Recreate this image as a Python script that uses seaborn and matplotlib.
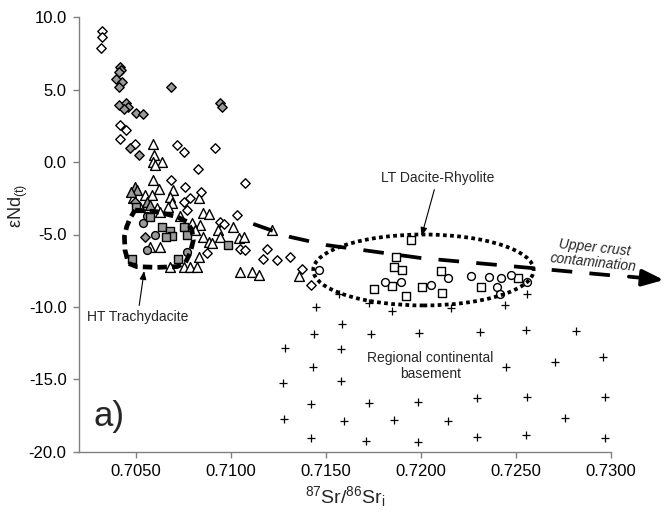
import matplotlib
matplotlib.use("Agg")
import matplotlib.pyplot as plt
import pandas as pd
import seaborn as sns
from matplotlib.patches import Ellipse
from matplotlib.ticker import FixedLocator, FuncFormatter

# ---------------------------------------------------------------------------
# Sr-Nd isotope data (87Sr/86Sr initial, epsilon Nd at t)
# ---------------------------------------------------------------------------
open_diamond_sr = [0.70320, 0.70320, 0.70316, 0.70416, 0.70446, 0.70416, 0.70495, 0.70715,
                   0.70753, 0.70917, 0.70824, 0.71075, 0.70683, 0.70759, 0.70841, 0.70750,
                   0.70785, 0.70768, 0.71031, 0.70940, 0.70961, 0.71045, 0.71075, 0.70873,
                   0.71189, 0.71171, 0.71242, 0.71312, 0.71374, 0.71421]
open_diamond_nd = [9.07, 8.66, 7.86, 2.56, 2.22, 1.57, 1.25, 1.18,
                   0.72, 0.95, -0.50, -1.46, -1.24, -1.70, -2.04, -2.73,
                   -2.50, -3.31, -3.65, -4.12, -4.27, -6.02, -6.07, -6.30,
                   -6.02, -6.71, -6.76, -6.57, -7.40, -8.49]

gray_diamond_sr = [0.70416, 0.70420, 0.70412, 0.70393, 0.70425, 0.70412, 0.70685, 0.70412,
                   0.70446, 0.70460, 0.70439, 0.70500, 0.70536, 0.70940, 0.70952, 0.70469,
                   0.70518, 0.70548, 0.70495]
gray_diamond_nd = [6.59, 6.36, 6.24, 5.72, 5.55, 5.17, 5.17, 3.94,
                   4.10, 3.78, 3.65, 3.41, 3.32, 4.10, 3.83, 0.95,
                   0.49, -5.19, -2.73]

open_triangle_sr = [0.70592, 0.70595, 0.70592, 0.70636, 0.70601, 0.70588, 0.70622, 0.70697,
                    0.70829, 0.70486, 0.70548, 0.70583, 0.70680, 0.70689, 0.70671, 0.70522,
                    0.70610, 0.70627, 0.70855, 0.70882, 0.70732, 0.70838, 0.70794, 0.70811,
                    0.70934, 0.71013, 0.71216, 0.70855, 0.70882, 0.70899, 0.70943, 0.71040,
                    0.71066, 0.70574, 0.70627, 0.70829, 0.70680, 0.70750, 0.70785, 0.70820,
                    0.71049, 0.71110, 0.71145, 0.71360]
open_triangle_nd = [1.25, 0.49, 0.03, 0.03, -0.20, -1.24, -1.88, -1.93,
                    -2.50, -2.50, -2.27, -2.27, -2.39, -2.85, -3.08, -3.08,
                    -3.19, -3.43, -3.54, -3.58, -3.72, -4.34, -4.23, -4.69,
                    -4.69, -4.50, -4.69, -5.19, -5.50, -5.61, -5.15, -5.26,
                    -5.15, -5.84, -5.84, -6.53, -7.27, -7.22, -7.27, -7.27,
                    -7.57, -7.57, -7.80, -7.87]

gray_triangle_sr = [0.70495, 0.70504, 0.70557, 0.70574, 0.70474]
gray_triangle_nd = [-1.70, -1.93, -2.73, -2.96, -2.06]

gray_square_sr = [0.70500, 0.70574, 0.70636, 0.70680, 0.70689, 0.70659, 0.70753, 0.70768,
                  0.70982, 0.70478, 0.70723]
gray_square_nd = [-3.08, -3.77, -4.50, -4.74, -5.10, -5.15, -4.46, -5.03,
                  -5.73, -6.71, -6.71]

gray_circle_sr = [0.70557, 0.70539, 0.70601, 0.70557, 0.70768]
gray_circle_nd = [-3.72, -4.23, -5.03, -6.07, -6.19]

open_square_sr = [0.71945, 0.71866, 0.71860, 0.71901, 0.71755, 0.71848, 0.71922, 0.72103,
                  0.72006, 0.72112, 0.72314, 0.72510]
open_square_nd = [-5.38, -6.53, -7.27, -7.45, -8.78, -8.56, -9.25, -7.50,
                  -8.60, -9.02, -8.60, -8.02]

open_circle_sr = [0.71461, 0.71813, 0.71896, 0.72141, 0.72050, 0.72261, 0.72357, 0.72419,
                  0.72472, 0.72556, 0.72402, 0.72415]
open_circle_nd = [-7.45, -8.26, -8.26, -8.02, -8.49, -7.87, -7.91, -8.02,
                  -7.80, -8.26, -8.65, -9.11]

basement_sr = [0.71567, 0.71449, 0.71725, 0.71848, 0.72156, 0.72560, 0.72440,
               0.71585, 0.71439, 0.71738, 0.71988, 0.72310, 0.72551, 0.72814,
               0.71286, 0.71581,
               0.71430, 0.72449, 0.72704, 0.72960,
               0.71274, 0.71579,
               0.71423, 0.71725, 0.71983, 0.72296, 0.72556, 0.72969,
               0.71281, 0.71597, 0.71860, 0.72141, 0.72756,
               0.71421, 0.71708, 0.71983, 0.72293, 0.72551, 0.72969]
basement_nd = [-9.14, -10.03, -9.71, -10.26, -10.10, -9.11, -9.87,
               -11.18, -11.87, -11.87, -11.82, -11.75, -11.60, -11.67,
               -12.86, -12.93,
               -14.13, -14.13, -13.78, -13.48,
               -15.28, -15.10,
               -16.71, -16.62, -16.55, -16.31, -16.20, -16.24,
               -17.76, -17.86, -17.81, -17.86, -17.65,
               -19.07, -19.24, -19.31, -19.01, -18.85, -19.03]

x_ticks = [0.7050, 0.7100, 0.7150, 0.7200, 0.7250, 0.7300]
y_ticks = [10.0, 5.0, 0.0, -5.0, -10.0, -15.0, -20.0]

# Field outlines and trend (annotation geometry)
ht_field_sr = [0.70495, 0.70610, 0.70715, 0.70768, 0.70794, 0.70802, 0.70785, 0.70759,
               0.70715, 0.70610, 0.70504, 0.70460, 0.70442, 0.70439, 0.70451, 0.70469]
ht_field_nd = [-3.31, -3.43, -3.77, -4.12, -4.69, -5.38, -6.28, -6.97,
               -7.22, -7.27, -7.22, -6.99, -6.07, -5.15, -4.46, -3.88]
trend_sr = [0.71117, 0.71312, 0.71502, 0.71997, 0.72577, 0.73009]
trend_nd = [-4.27, -5.17, -5.73, -6.62, -7.31, -7.83]

# ---------------------------------------------------------------------------
sns.set_style("white")
plt.rcParams["font.family"] = ["Liberation Sans", "DejaVu Sans"]
plt.rcParams["mathtext.fontset"] = "custom"
plt.rcParams["mathtext.rm"] = "Liberation Sans"
plt.rcParams["mathtext.it"] = "Liberation Sans:italic"
plt.rcParams["mathtext.bf"] = "Liberation Sans:bold"

fig = plt.figure(figsize=(6.65, 5.24), dpi=100)
ax = fig.add_axes([79 / 665, 1 - 451.7 / 524, 532 / 665, 434.4 / 524])

GRAY = "#9a9a9a"
groups = [
    ("basement", basement_sr, basement_nd, "+", "black", 30),
    ("open_triangle", open_triangle_sr, open_triangle_nd, "^", "white", 50),
    ("open_diamond", open_diamond_sr, open_diamond_nd, "D", "white", 23),
    ("gray_diamond", gray_diamond_sr, gray_diamond_nd, "D", GRAY, 23),
    ("gray_triangle", gray_triangle_sr, gray_triangle_nd, "^", GRAY, 50),
    ("gray_circle", gray_circle_sr, gray_circle_nd, "o", GRAY, 32),
    ("gray_square", gray_square_sr, gray_square_nd, "s", GRAY, 32),
    ("open_square", open_square_sr, open_square_nd, "s", "white", 32),
    ("open_circle", open_circle_sr, open_circle_nd, "o", "white", 32),
]

frames = [pd.DataFrame({"sr": sr, "nd": nd, "group": name})
          for name, sr, nd, *_ in groups]
data = pd.concat(frames, ignore_index=True)

for z, (name, _, _, marker, face, size) in enumerate(groups):
    sub = data[data["group"] == name]
    if marker == "+":
        sns.scatterplot(data=sub, x="sr", y="nd", marker="+", color="black",
                        s=size, linewidth=0.9, ax=ax, legend=False, zorder=3 + z)
    else:
        sns.scatterplot(data=sub, x="sr", y="nd", marker=marker, color=face,
                        edgecolor="black", s=size, linewidth=1.0, ax=ax,
                        legend=False, zorder=3 + z)

# HT trachydacite field (thick dashed loop)
ax.plot(ht_field_sr + ht_field_sr[:1], ht_field_nd + ht_field_nd[:1],
        color="black", lw=3.4, ls=(0, (2.0, 1.1)), zorder=20,
        solid_joinstyle="round")

# LT dacite-rhyolite field (dotted ellipse)
ax.add_patch(Ellipse((0.72013, -7.45), 0.01160, 4.90, fill=False,
                     edgecolor="black", lw=2.7, ls=(0, (1.0, 0.9)), zorder=20))

# Upper crust contamination trend
ax.plot(trend_sr, trend_nd, color="black", lw=2.7, ls=(0, (5.5, 4.6)),
        zorder=21, clip_on=False)
ax.annotate("", xy=(0.73278, -8.14), xytext=(0.73094, -7.91),
            arrowprops=dict(arrowstyle="-|>,head_length=1.3,head_width=0.5",
                            lw=2.7, color="black", shrinkA=0, shrinkB=0),
            annotation_clip=False, zorder=21)

# Text annotations
ax.annotate("HT Trachydacite", xy=(0.70543, -7.52), xytext=(0.70508, -10.70),
            ha="center", va="center", fontsize=10,
            arrowprops=dict(arrowstyle="-|>,head_length=0.5,head_width=0.2",
                            lw=0.8, color="black", shrinkA=1, shrinkB=0),
            zorder=22)
ax.annotate("LT Dacite-Rhyolite", xy=(0.72003, -5.10), xytext=(0.72087, -1.10),
            ha="center", va="center", fontsize=10,
            arrowprops=dict(arrowstyle="-|>,head_length=0.5,head_width=0.2",
                            lw=0.8, color="black", shrinkA=1, shrinkB=0),
            zorder=22)
ax.text(0.72050, -14.08, "Regional continental\nbasement", ha="center",
        va="center", fontsize=10, linespacing=1.15, zorder=22)
ax.text(0.72909, -6.42, "Upper crust\ncontamination", ha="center", va="center",
        fontsize=10, style="italic", rotation=-6, rotation_mode="anchor",
        linespacing=1.1, clip_on=False, zorder=22)
ax.text(0.70274, -18.2, "a)", ha="left", va="baseline", fontsize=25, zorder=22)

# Axes
ax.set_xlim(0.7020, 0.7300)
ax.set_ylim(-20, 10)
ax.xaxis.set_major_locator(FixedLocator(x_ticks))
ax.yaxis.set_major_locator(FixedLocator(y_ticks))
ax.xaxis.set_major_formatter(FuncFormatter(lambda v, p: f"{v:.4f}"))
ax.yaxis.set_major_formatter(FuncFormatter(lambda v, p: f"{v:.1f}"))
for side in ("top", "right"):
    ax.spines[side].set_visible(False)
for side in ("left", "bottom"):
    ax.spines[side].set_color("#808080")
    ax.spines[side].set_linewidth(1.0)
ax.tick_params(direction="out", length=4, width=1.0, color="#808080",
               labelsize=12, labelcolor="black", pad=5,
               left=True, bottom=True)
ax.set_xlabel("")
ax.set_ylabel("")

fig.text(18 / 665, 1 - 206 / 524, "εNd$_{\\mathrm{(t)}}$", rotation=90,
         ha="center", va="center", fontsize=13)
fig.text(345 / 665, 1 - 497 / 524, "$^{87}$Sr/$^{86}$Sr$_{\\mathrm{i}}$",
         ha="center", va="center", fontsize=14)

fig.savefig("out.png", dpi=100)
